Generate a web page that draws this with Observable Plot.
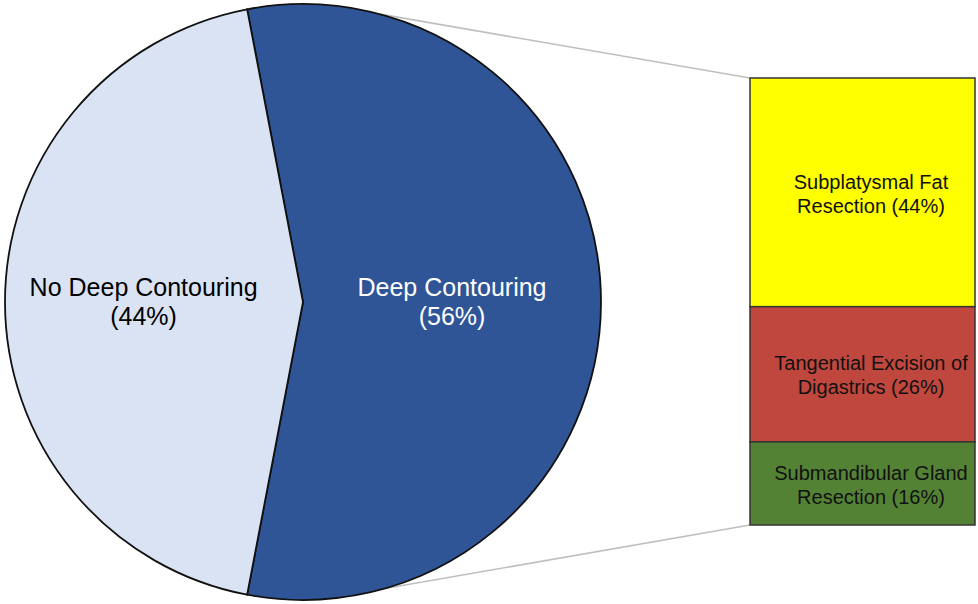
<!DOCTYPE html>
<html><head><meta charset="utf-8">
<script src="https://cdn.jsdelivr.net/npm/d3@7"></script>
<script src="https://cdn.jsdelivr.net/npm/@observablehq/plot@0.6"></script>
<style>body{margin:0;background:#fff}</style>
</head><body><div id="chart"></div>
<script>
// ---- data ----
const pieLabels = ["Deep Contouring", "No Deep Contouring"];
const pieValues = [56, 44];
const pieColors = ["#2F5597", "#DAE3F3"];
const pieTextColors = ["#ffffff", "#000000"];

const barParent = "Deep Contouring";
const barLabels = ["Subplatysmal Fat", "Tangential Excision of", "Submandibular Gland"];
const barLabels2 = ["Resection", "Digastrics", "Resection"];
const barValues = [44, 26, 16];
const barColors = ["#FFFF00", "#C0473D", "#548235"];

// ---- layout (style only) ----
const W = 978, H = 604;
const pie = {cx: 303, cy: 302, r: 298};
const labelRadii = [0.50, 0.535]; // fraction of radius for each slice label
const connectorAngles = [15, 164]; // degrees clockwise from north, where the guide lines leave the pie
const font = "'Liberation Sans', Arial, Helvetica, sans-serif";

const pieData = pieLabels.map((label, i) => ({label, value: pieValues[i], color: pieColors[i], text: pieTextColors[i], lr: labelRadii[i]}));
const barData = barLabels.map((l, i) => ({
  parent: barParent,
  value: barValues[i],
  color: barColors[i],
  label: `${l}\n${barLabels2[i]} (${barValues[i]}%)`
}));
const total = d3.sum(barValues);

function pieMark(index, scales, values, dimensions, context) {
  const g = d3.create("svg:g");
  const first = pieData[0].value / d3.sum(pieData, d => d.value);
  const start = Math.PI / 2 - Math.PI * first;
  const arcs = d3.pie().sort(null).value(d => d.value)
    .startAngle(start).endAngle(start + 2 * Math.PI)(pieData);
  const arc = d3.arc().innerRadius(0).outerRadius(pie.r);

  // connector lines from pie to the bar corners
  const bx = scales.x(barParent);
  const corners = [[bx, scales.y(0)], [bx, scales.y(total)]];
  connectorAngles.forEach((deg, i) => {
    const a = deg * Math.PI / 180;
    g.append("line")
      .attr("x1", pie.cx + pie.r * Math.sin(a))
      .attr("y1", pie.cy - pie.r * Math.cos(a))
      .attr("x2", corners[i][0]).attr("y2", corners[i][1])
      .attr("stroke", "#BFBFBF").attr("stroke-width", 1.6);
  });

  const pg = g.append("g").attr("transform", `translate(${pie.cx},${pie.cy})`);
  pg.selectAll("path").data(arcs).join("path")
    .attr("d", arc)
    .attr("fill", d => d.data.color)
    .attr("stroke", "#111").attr("stroke-width", 1.8).attr("stroke-linejoin", "miter");

  const t = pg.selectAll("text").data(arcs).join("text")
    .attr("transform", d => {
      const lr = pie.r * d.data.lr;
      return `translate(${d3.arc().innerRadius(lr).outerRadius(lr).centroid(d)})`;
    })
    .attr("text-anchor", "middle")
    .attr("fill", d => d.data.text)
    .attr("font-size", 25)
    .attr("font-family", font);
  t.append("tspan").attr("x", 0).attr("dy", "-0.25em").text(d => d.data.label);
  t.append("tspan").attr("x", 0).attr("dy", "1.15em").text(d => `(${d.data.value}%)`);
  return g.node();
}

const chart = Plot.plot({
  width: W, height: H,
  margin: 0,
  style: {fontFamily: font, background: "#fff"},
  x: {type: "band", domain: [barParent], range: [750, 975], padding: 0, axis: null},
  y: {domain: [0, total], range: [78, 525], axis: null},
  color: {type: "identity"},
  marks: [
    pieMark,
    Plot.barY(barData, {x: "parent", y: "value", fill: "color", stroke: "#333", strokeWidth: 1.5, inset: 0}),
    Plot.text(barData, Plot.stackY({x: "parent", y: "value", text: "label", fontSize: 20, lineHeight: 1.2, dx: 8, fill: "#111"}))
  ]
});
document.getElementById("chart").append(chart);
</script>
</body></html>
